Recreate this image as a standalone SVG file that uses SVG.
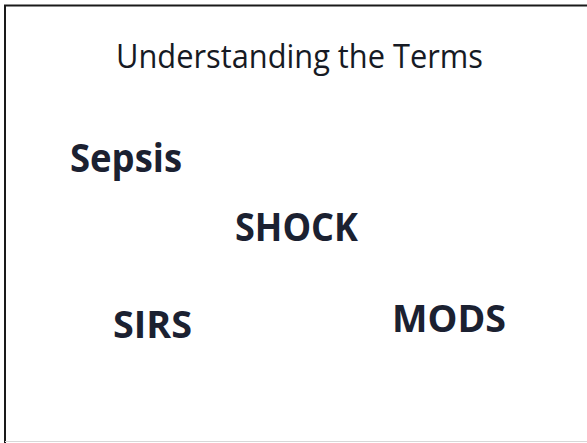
<svg xmlns="http://www.w3.org/2000/svg" width="587" height="443" viewBox="0 0 587 443">
<style>
.t{font-family:"Open Sans","Noto Sans","Liberation Sans",sans-serif;fill:#161a24}
.b{font-weight:bold;fill:#1b2131}
</style>
<rect width="587" height="443" fill="#ffffff"/>
<g id="frame" fill="none" stroke="#1a1a1a">
<line x1="4" y1="5.5" x2="587" y2="5.5" stroke-width="2"/>
<line x1="5" y1="5" x2="5" y2="443" stroke-width="2"/>
<line x1="5" y1="441.5" x2="587" y2="441.5" stroke="#d8d8d8" stroke-width="1"/>
</g>
<g id="title"><text class="t" x="116" y="68" font-size="33" textLength="367" lengthAdjust="spacingAndGlyphs">Understanding the Terms</text></g>
<g id="sepsis"><text class="t b" x="70" y="172" font-size="39" textLength="112" lengthAdjust="spacingAndGlyphs">Sepsis</text></g>
<g id="shock"><text class="t b" x="235" y="241" font-size="39" textLength="123" lengthAdjust="spacingAndGlyphs">SHOCK</text></g>
<g id="sirs"><text class="t b" x="113" y="338" font-size="38" textLength="79" lengthAdjust="spacingAndGlyphs">SIRS</text></g>
<g id="mods"><text class="t b" x="392" y="332" font-size="38" textLength="114" lengthAdjust="spacingAndGlyphs">MODS</text></g>
</svg>
